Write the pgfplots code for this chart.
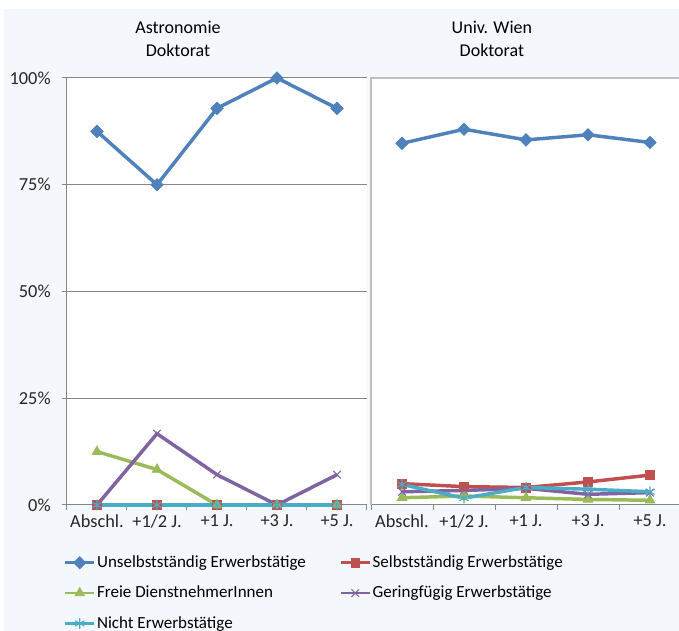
\documentclass[border=0pt]{standalone}
\usepackage{fontspec}
\setmainfont{Carlito}
\usepackage{pgfplots}
\pgfplotsset{compat=1.18}
\definecolor{cblue}{HTML}{4F81BD}
\definecolor{cred}{HTML}{C0504D}
\definecolor{cgreen}{HTML}{9BBB59}
\definecolor{cpurple}{HTML}{8064A2}
\definecolor{ccyan}{HTML}{4BACC6}
\definecolor{bg}{HTML}{F4F7FC}
\definecolor{gridc}{HTML}{868686}
\pgfplotsset{
  common/.style={
    scale only axis, width=225pt, height=320.25pt,
    xmin=-0.5, xmax=4.5, ymin=0, ymax=100,
    axis background/.style={fill=white},
    xtick={-0.5,0.5,1.5,2.5,3.5,4.5},
    xticklabels={Abschl., +1/2 J., +1 J., +3 J., +5 J.},
    x tick label as interval,
    tick align=outside, major tick length=3.75pt,
    tick style={draw=gridc, line width=0.75pt},
    ticklabel style={font=\fontsize{13.75}{16}\selectfont, text=black!85},
    axis x line*=bottom,
    x axis line style={draw=gridc, line width=0.75pt},
    clip=false,
  },
  sblue/.style={draw=cblue, line width=2.6pt, mark=square*, mark size=3.3pt, mark options={fill=cblue, draw=cblue, rotate=45, line width=0.5pt}},
  sred/.style={draw=cred, line width=2.6pt, mark=square*, mark size=3.3pt, mark options={fill=cred, draw=cred, line width=0.5pt}},
  sgreen/.style={draw=cgreen, line width=2.6pt, mark=triangle*, mark size=4.2pt, mark options={fill=cgreen, draw=cgreen, line width=0.5pt}},
  spurple/.style={draw=cpurple, line width=2.6pt, mark=x, mark size=4pt, mark options={draw=cpurple, line width=0.8pt}},
  scyan/.style={draw=ccyan, line width=2.6pt, mark=asterisk, mark size=4pt, mark options={draw=ccyan, line width=0.8pt}},
}
\begin{document}
\begin{tikzpicture}
\useasboundingbox (0,0) rectangle (509.25pt,473.25pt);
\fill[white] (0,0) rectangle (509.25pt,473.25pt);
\fill[bg] (3pt,0) rectangle (509.25pt,466.5pt);

\begin{axis}[common, at={(50.25pt,94.5pt)}, anchor=south west,
  axis y line*=left,
  y axis line style={draw=gridc, line width=0.75pt},
  ytick={0,25,50,75,100},
  yticklabels={0\%,25\%,50\%,75\%,100\%},
  yticklabel style={xshift=-5pt},
  ymajorgrids, grid style={draw=gridc, line width=0.75pt},
  legend columns=2,
  legend cell align=left,
  legend style={at={(-0.025,-0.106)}, anchor=north west, draw=none, fill=none,
    font=\fontsize{12.75}{15}\selectfont,
    nodes={inner xsep=1pt},
    /tikz/every even column/.append style={column sep=24pt},
    row sep=8.4pt},
  legend image code/.code={\draw[mark repeat=2,mark phase=2,#1, line width=2pt] plot coordinates {(0pt,0pt)(11pt,0pt)(22pt,0pt)};},
]
\addplot[sblue] coordinates {(0,87.5)(1,75)(2,92.9)(3,100)(4,92.9)};
\addlegendentry{Unselbstständig Erwerbstätige}
\addplot[sred] coordinates {(0,0)(1,0)(2,0)(3,0)(4,0)};
\addlegendentry{Selbstständig Erwerbstätige}
\addplot[sgreen] coordinates {(0,12.5)(1,8.3)(2,0)(3,0)(4,0)};
\addlegendentry{Freie DienstnehmerInnen}
\addplot[spurple] coordinates {(0,0)(1,16.7)(2,7.1)(3,0)(4,7.1)};
\addlegendentry{Geringfügig Erwerbstätige}
\addplot[scyan] coordinates {(0,0)(1,0)(2,0)(3,0)(4,0)};
\addlegendentry{Nicht Erwerbstätige}
\node[align=center, anchor=south, font=\fontsize{13.5}{17}\selectfont] at (rel axis cs:0.37,1.04) {Astronomie\\Doktorat};
\end{axis}

\begin{axis}[common, at={(278.25pt,94.5pt)}, anchor=south west, width=232.5pt,
  ytick=\empty,
  axis y line=none,
]
\draw[draw=gray!50, line width=1.5pt] (rel axis cs:0,0) -- (rel axis cs:0,1) -- (rel axis cs:1,1);
\addplot[sblue] coordinates {(0,84.7)(1,88.0)(2,85.5)(3,86.7)(4,84.9)};
\addplot[sred] coordinates {(0,5.0)(1,4.3)(2,4.1)(3,5.4)(4,7.0)};
\addplot[sgreen] coordinates {(0,1.7)(1,2.1)(2,1.7)(3,1.3)(4,1.1)};
\addplot[spurple] coordinates {(0,3.1)(1,3.4)(2,3.9)(3,2.5)(4,2.9)};
\addplot[scyan] coordinates {(0,4.8)(1,1.6)(2,4.1)(3,3.7)(4,3.1)};
\node[align=center, anchor=south, font=\fontsize{13.5}{17}\selectfont] at (rel axis cs:0.39,1.04) {Univ. Wien\\Doktorat};
\end{axis}
\end{tikzpicture}
\end{document}
